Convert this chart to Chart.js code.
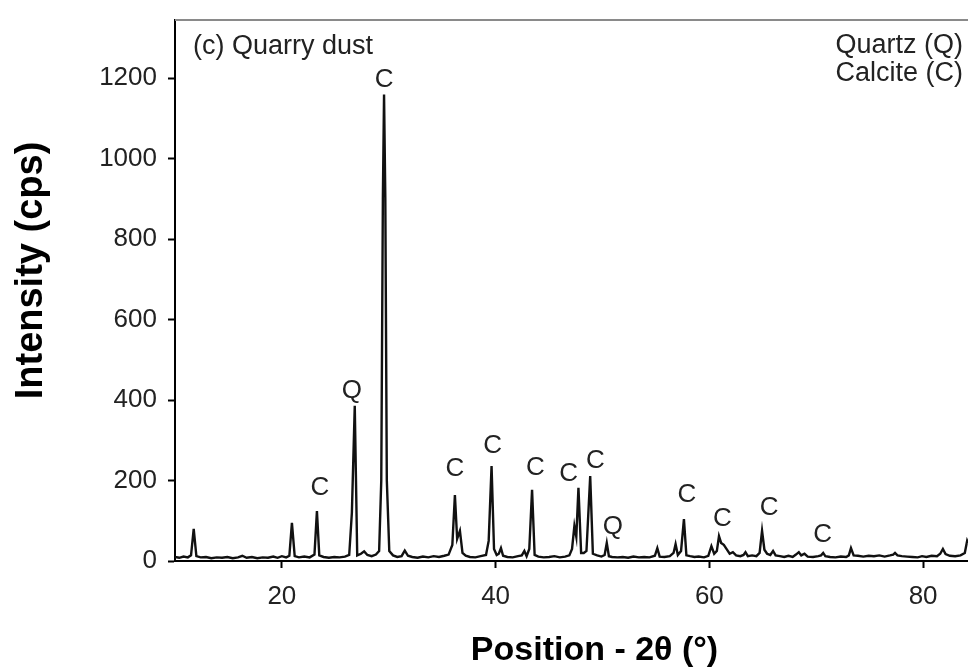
<!DOCTYPE html>
<html>
<head>
<meta charset="utf-8">
<title>XRD - Quarry dust</title>
<script src="https://cdn.jsdelivr.net/npm/chart.js@4.4.1/dist/chart.umd.min.js"></script>
<style>
  html, body { margin: 0; padding: 0; background: #fff; }
</style>
</head>
<body>
<canvas id="xrdChart" width="968" height="669"></canvas>
<script>
// 2-theta positions (deg) and intensities (cps)
const twoTheta = [
  10.0, 10.4, 10.8, 11.2, 11.5, 11.75, 12.0, 12.4,
  12.9, 13.4, 13.9, 14.4, 14.9, 15.4, 15.9, 16.3,
  16.7, 17.2, 17.7, 18.2, 18.7, 19.2, 19.6, 20.0,
  20.4, 20.7, 20.94, 21.2, 21.6, 22.1, 22.6, 23.05,
  23.28, 23.5, 23.9, 24.4, 24.9, 25.4, 25.9, 26.3,
  26.55, 26.82, 27.05, 27.4, 27.7, 28.0, 28.4, 28.8,
  29.1, 29.3, 29.45, 29.56, 29.68, 29.82, 30.05, 30.4,
  30.8, 31.2, 31.5, 31.8, 32.2, 32.7, 33.2, 33.7,
  34.2, 34.7, 35.2, 35.6, 35.95, 36.19, 36.4, 36.66,
  36.9, 37.2, 37.6, 38.1, 38.6, 39.1, 39.35, 39.62,
  39.85, 40.1, 40.3, 40.5, 40.7, 41.1, 41.6, 42.1,
  42.45, 42.69, 42.9, 43.15, 43.41, 43.65, 44.0, 44.5,
  45.0, 45.5, 46.0, 46.5, 46.9, 47.15, 47.37, 47.55,
  47.75, 48.0, 48.25, 48.5, 48.85, 49.1, 49.5, 49.9,
  50.2, 50.4, 50.6, 50.9, 51.4, 51.9, 52.4, 52.9,
  53.4, 53.9, 54.4, 54.9, 55.13, 55.35, 55.8, 56.3,
  56.65, 56.84, 57.05, 57.35, 57.62, 57.85, 58.2, 58.6,
  59.0, 59.5, 59.9, 60.19, 60.45, 60.7, 60.9, 61.1,
  61.35, 61.6, 61.9, 62.2, 62.5, 62.9, 63.2, 63.38,
  63.6, 64.0, 64.4, 64.7, 64.93, 65.15, 65.4, 65.7,
  65.96, 66.2, 66.6, 67.0, 67.4, 67.8, 68.1, 68.37,
  68.6, 68.9, 69.2, 69.7, 70.2, 70.45, 70.65, 70.85,
  71.3, 71.8, 72.3, 72.8, 73.05, 73.25, 73.5, 73.9,
  74.4, 74.9, 75.4, 75.9, 76.4, 76.9, 77.2, 77.37,
  77.6, 78.0, 78.5, 79.0, 79.5, 79.9, 80.3, 80.8,
  81.3, 81.6, 81.85, 82.1, 82.5, 83.0, 83.5, 83.9,
  84.12, 84.2
];
const counts = [
  10, 8, 11, 9, 14, 80, 12, 9,
  10, 7, 9, 8, 10, 7, 9, 13,
  8, 10, 7, 9, 8, 11, 8, 12,
  9, 13, 95, 12, 9, 11, 9, 16,
  124, 14, 10, 8, 10, 9, 11, 15,
  120, 386, 14, 18, 24, 15, 12, 16,
  25, 200, 900, 1160, 900, 200, 25, 14,
  10, 12, 26, 13, 10, 8, 11, 9,
  12, 10, 13, 16, 40, 164, 55, 75,
  20, 13, 10, 9, 12, 15, 50, 236,
  30, 15, 18, 32, 13, 10, 9, 12,
  14, 25, 12, 30, 177, 15, 11, 9,
  10, 12, 9, 11, 14, 30, 87, 60,
  182, 20, 20, 25, 211, 18, 14, 11,
  15, 45, 12, 10, 9, 10, 8, 11,
  9, 10, 9, 13, 32, 11, 10, 12,
  20, 42, 15, 25, 104, 14, 12, 10,
  11, 9, 13, 37, 18, 25, 62, 45,
  40, 30, 18, 22, 14, 12, 15, 22,
  12, 14, 12, 20, 75, 28, 18, 15,
  25, 14, 12, 10, 13, 10, 16, 22,
  14, 18, 11, 10, 12, 14, 20, 12,
  10, 9, 11, 10, 14, 32, 14, 13,
  11, 13, 12, 14, 11, 14, 16, 20,
  14, 12, 11, 10, 9, 12, 10, 13,
  12, 18, 30, 17, 13, 12, 14, 20,
  50, 45
];

// phase markers above the peaks
const labelTheta  = [23.56, 26.55, 29.56, 36.19, 39.72, 43.72, 46.84, 49.34, 50.97, 57.9, 61.22, 65.59, 70.6];
const labelCounts = [182, 423, 1197, 228, 286, 232, 216, 249, 85, 164, 105, 131, 65];
const labelPhase  = ['C', 'Q', 'C', 'C', 'C', 'C', 'C', 'C', 'Q', 'C', 'C', 'C', 'C'];

const sampleName = '(c) Quarry dust';
const phaseKey = ['Quartz (Q)', 'Calcite (C)'];
const xTitle = 'Position - 2θ (°)';
const yTitle = 'Intensity (cps)';

const xTicks = [20, 40, 60, 80];
const yTicks = [0, 200, 400, 600, 800, 1000, 1200];

const fontFamily = '"Liberation Sans", Arial, Helvetica, sans-serif';
Chart.defaults.font.family = fontFamily;

// draws the peak letters, the sample name, the phase key, axis titles and the top frame
const xrdLabels = {
  id: 'xrdLabels',
  afterDatasetsDraw(chart) {
    const { ctx, chartArea, scales: { x, y } } = chart;
    ctx.save();
    ctx.strokeStyle = '#8a8a8a';
    ctx.lineWidth = 2;
    ctx.beginPath();
    ctx.moveTo(chartArea.left, chartArea.top);
    ctx.lineTo(chartArea.right, chartArea.top);
    ctx.stroke();

    ctx.fillStyle = '#222';
    ctx.font = '26px ' + fontFamily;
    ctx.textAlign = 'center';
    ctx.textBaseline = 'middle';
    labelTheta.forEach((t, i) => {
      ctx.fillText(labelPhase[i], x.getPixelForValue(t), y.getPixelForValue(labelCounts[i]));
    });

    ctx.font = '27px ' + fontFamily;
    ctx.textAlign = 'left';
    ctx.fillText(sampleName, chartArea.left + 18, chartArea.top + 27);
    ctx.textAlign = 'right';
    ctx.fillText(phaseKey[0], chartArea.right - 5, chartArea.top + 26);
    ctx.fillText(phaseKey[1], chartArea.right - 5, chartArea.top + 54);

    // axis titles sit a little off-centre in the original figure
    ctx.fillStyle = '#000';
    ctx.font = 'bold 34px ' + fontFamily;
    ctx.textAlign = 'center';
    ctx.fillText(xTitle, (chartArea.left + chartArea.right) / 2 + 23, chartArea.bottom + 90);
    ctx.translate(32, (chartArea.top + chartArea.bottom) / 2 - 20);
    ctx.rotate(-Math.PI / 2);
    ctx.font = 'bold 38px ' + fontFamily;
    ctx.fillText(yTitle, 0, 0);
    ctx.restore();
  }
};

const ctx = document.getElementById('xrdChart').getContext('2d');

const chartInstance = new Chart(ctx, {
  type: 'line',
  data: {
    datasets: [{
      label: 'Quarry dust',
      data: twoTheta.map((t, i) => ({ x: t, y: counts[i] })),
      borderColor: '#111',
      borderWidth: 2.4,
      pointRadius: 0,
      tension: 0,
      fill: false
    }]
  },
  options: {
    responsive: false,
    animation: false,
    layout: { padding: { top: 20, right: 0, left: 0, bottom: 0 } },
    plugins: {
      legend: { display: false },
      tooltip: { enabled: false }
    },
    scales: {
      x: {
        type: 'linear',
        min: 10,
        max: 84.2,
        afterBuildTicks: scale => { scale.ticks = xTicks.map(v => ({ value: v })); },
        afterFit: scale => { scale.height = 108; scale.paddingLeft = 0; scale.paddingRight = 0; },
        ticks: { color: '#222', font: { size: 26 }, padding: 13, maxRotation: 0 },
        grid: { drawOnChartArea: false, drawTicks: true, tickLength: 7, tickWidth: 2, color: '#000' },
        border: { display: true, color: '#000', width: 2 }
      },
      y: {
        min: 0,
        max: 1345,
        afterBuildTicks: scale => { scale.ticks = yTicks.map(v => ({ value: v })); },
        afterFit: scale => { scale.width = 175; scale.paddingTop = 0; scale.paddingBottom = 0; },
        ticks: { color: '#222', font: { size: 26 }, padding: 11, callback: v => String(v) },
        grid: { drawOnChartArea: false, drawTicks: true, tickLength: 7, tickWidth: 2, color: '#000' },
        border: { display: true, color: '#000', width: 2 }
      }
    }
  },
  plugins: [xrdLabels]
});
</script>
</body>
</html>
